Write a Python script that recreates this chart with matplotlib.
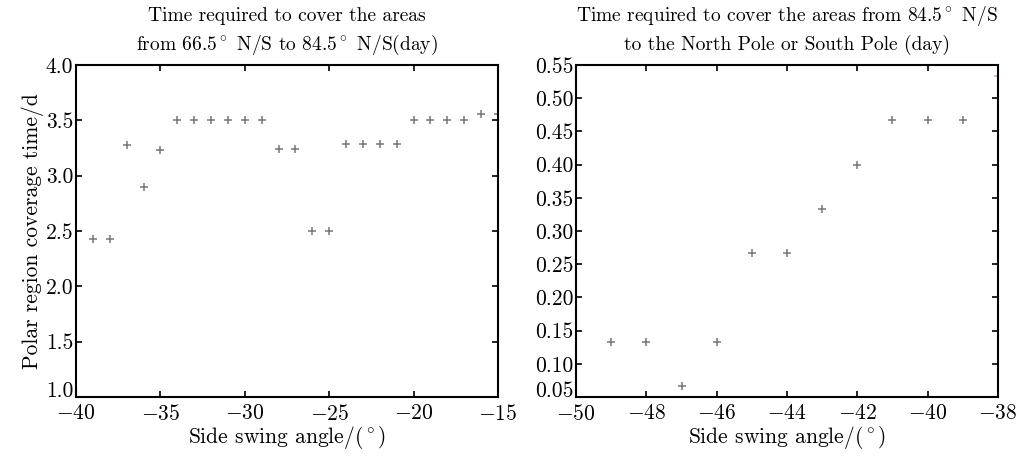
import matplotlib
matplotlib.use("Agg")
import matplotlib.pyplot as plt

plt.rcParams['font.family'] = 'serif'
plt.rcParams['font.serif'] = ['cmr10', 'DejaVu Serif']
plt.rcParams['mathtext.fontset'] = 'cm'
plt.rcParams['axes.formatter.use_mathtext'] = True

# left panel: 66.5 N/S to 84.5 N/S
angle_left = [-39, -38, -37, -36, -35, -34, -33, -32, -31, -30, -29, -28, -27,
              -26, -25, -24, -23, -22, -21, -20, -19, -18, -17, -16, -15]
time_left = [2.43, 2.43, 3.28, 2.90, 3.23, 3.50, 3.50, 3.50, 3.50, 3.50, 3.50,
             3.24, 3.24, 2.50, 2.50, 3.29, 3.29, 3.29, 3.29, 3.50, 3.50, 3.50,
             3.50, 3.56, 3.56]

# right panel: 84.5 N/S to the pole
angle_right = [-49, -48, -47, -46, -45, -44, -43, -42, -41, -40, -39, -38]
time_right = [0.133, 0.133, 0.067, 0.133, 0.267, 0.267, 0.333, 0.400, 0.467,
              0.467, 0.467, 0.533]

fig = plt.figure(figsize=(10.19, 4.58), dpi=100)
ax1 = fig.add_axes([0.0746, 0.1332, 0.414, 0.725])
ax2 = fig.add_axes([0.5653, 0.1332, 0.414, 0.725])

mk = dict(marker='+', linestyle='none', markersize=5.5, mew=1.1, color='#777777')
ax1.plot(angle_left, time_left, **mk)
ax2.plot(angle_right[:-1], time_right[:-1], **mk)
ax2.plot(angle_right[-1:], time_right[-1:], marker='+', linestyle='none',
         markersize=5.5, mew=1.1, color='#e8a0b0')

deg = '$^\\circ$'
ax1.set_xlim(-40, -15)
ax1.set_ylim(1.0, 4.0)
ax1.set_xticks([-40, -35, -30, -25, -20, -15])
ax1.set_yticks([1.0, 1.5, 2.0, 2.5, 3.0, 3.5, 4.0])
ax1.set_yticklabels(['1.0', '1.5', '2.0', '2.5', '3.0', '3.5', '4.0'])
ax1.set_title('Time required to cover the areas\nfrom 66.5' + deg + ' N/S to 84.5' + deg + ' N/S(day)',
              fontsize=14, pad=11, linespacing=1.45)
ax1.set_ylabel('Polar region coverage time/d', fontsize=15.5, labelpad=1)

ax2.set_xlim(-50, -38)
ax2.set_ylim(0.05, 0.55)
ax2.set_xticks([-50, -48, -46, -44, -42, -40, -38])
yt = [0.05, 0.10, 0.15, 0.20, 0.25, 0.30, 0.35, 0.40, 0.45, 0.50, 0.55]
ax2.set_yticks(yt)
ax2.set_yticklabels(['%.2f' % v for v in yt])
ax2.set_title('Time required to cover the areas from 84.5' + deg + ' N/S\nto the North Pole or South Pole (day)',
              fontsize=14, pad=11, linespacing=1.45)

for ax in (ax1, ax2):
    ax.set_xlabel('Side swing angle/(' + deg + ')', fontsize=15.5, labelpad=0)
    ax.tick_params(direction='in', top=True, right=True, length=4, width=1.2,
                   labelsize=15.5)
    ax.tick_params(axis='x', pad=5)
    ax.tick_params(axis='y', pad=2)
    # lowest y label sits just above the corner, clear of the first x label
    ax.get_yticklabels()[0].set_verticalalignment('baseline')
    for s in ax.spines.values():
        s.set_linewidth(1.5)

fig.savefig('out.png', dpi=100)
